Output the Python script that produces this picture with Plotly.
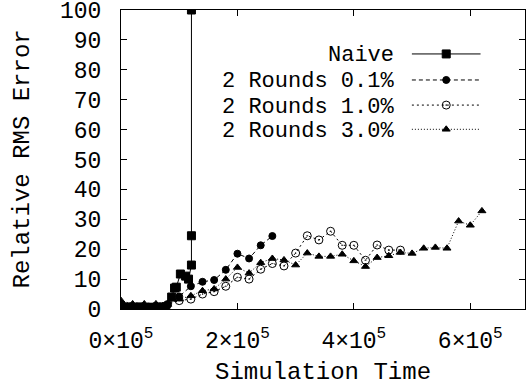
import plotly.graph_objects as go

FONT = "Liberation Mono"

# Naive
naive_x = [2000, 7000, 12000, 17000, 22000, 27000, 32000, 37000, 42000, 47000,
           52000, 57000, 62000, 67000, 72000, 77000,
           87000, 92000, 95000, 102000, 111000, 116000, 121000, 121000, 121000]
naive_y = [0.6, 0.5, 0.7, 0.5, 0.6, 0.5, 0.7, 0.5, 0.6, 0.5,
           0.6, 0.5, 0.7, 0.5, 0.6, 0.8,
           4.0, 7.0, 7.3, 11.7, 11.0, 10.0, 14.7, 24.5, 100.0]

# 2 Rounds 0.1%
r01_x = [0, 20000, 40000, 60000, 80000, 100000, 120000, 140000, 160000, 180000,
         200000, 220000, 240000, 260000]
r01_y = [1.5, 0.5, 0.5, 0.5, 1.5, 4.2, 7.6, 9.1, 9.7, 13.1, 18.5, 16.9, 21.3, 24.4]

# 2 Rounds 1.0%
r10_x = [0, 20000, 40000, 60000, 80000, 100000, 120000, 140000, 160000, 180000,
         200000, 220000, 240000, 260000, 280000, 300000, 320000, 340000, 360000,
         380000, 400000, 420000, 440000, 460000, 480000]
r10_y = [1.0, 0.5, 0.5, 0.5, 1.5, 2.8, 3.3, 5.0, 5.8, 7.6, 10.6, 10.0, 13.3, 15.2,
         14.4, 18.7, 24.5, 23.1, 26.0, 21.3, 21.3, 16.3, 21.4, 19.7, 19.7]

# 2 Rounds 3.0%
r30_x = [0, 20000, 40000, 60000, 80000, 100000, 120000, 140000, 160000, 180000,
         200000, 220000, 240000, 260000, 280000, 300000, 320000, 340000, 360000,
         380000, 400000, 420000, 440000, 460000, 480000, 500000, 520000, 540000,
         560000, 580000, 600000, 620000]
r30_y = [2.8, 1.7, 1.7, 1.7, 1.5, 3.3, 4.4, 6.1, 6.7, 10.0, 13.9, 12.0, 15.5, 16.9,
         16.4, 14.7, 18.7, 17.6, 17.6, 18.3, 16.1, 14.2, 17.2, 17.8, 18.9, 18.6,
         20.3, 20.6, 20.3, 29.4, 28.0, 32.8]

series_names = ["Naive", "2 Rounds 0.1%", "2 Rounds 1.0%", "2 Rounds 3.0%"]
x_tick_vals = [0, 200000, 400000, 600000]
x_tick_text = ["0×10<sup>5</sup>", "2×10<sup>5</sup>", "4×10<sup>5</sup>", "6×10<sup>5</sup>"]
y_tick_vals = [0, 10, 20, 30, 40, 50, 60, 70, 80, 90, 100]
x_title = "Simulation Time"
y_title = "Relative RMS Error"

styles = [
    dict(dash="solid", symbol="square", size=8),
    dict(dash="4px,3px", symbol="circle", size=7),
    dict(dash="2px,3px", symbol="circle-open-dot", size=8),
    dict(dash="1px,2px", symbol="triangle-up", size=7),
]
data = [(naive_x, naive_y), (r01_x, r01_y), (r10_x, r10_y), (r30_x, r30_y)]

fig = go.Figure()
for (xs, ys), st, name in zip(data, styles, series_names):
    fig.add_trace(go.Scatter(
        x=xs, y=ys, mode="lines+markers", name=name, showlegend=False,
        line=dict(color="black", width=1, dash=st["dash"]),
        marker=dict(symbol=st["symbol"], size=st["size"], color="black",
                    line=dict(color="black", width=1)),
        xaxis="x", yaxis="y"))

# manual legend (text right aligned, sample on the right)
leg_rows = [0.853, 0.766, 0.682, 0.601]
for (st, name, yy) in zip(styles, series_names, leg_rows):
    fig.add_trace(go.Scatter(
        x=[0.72, 0.89], y=[yy, yy], mode="lines",
        line=dict(color="black", width=1, dash=st["dash"]),
        showlegend=False, hoverinfo="skip", xaxis="x2", yaxis="y2"))
    fig.add_trace(go.Scatter(
        x=[0.805], y=[yy], mode="markers",
        marker=dict(symbol=st["symbol"], size=st["size"], color="black",
                    line=dict(color="black", width=1)),
        showlegend=False, hoverinfo="skip", xaxis="x2", yaxis="y2"))
    fig.add_annotation(x=0.68, y=yy, xref="paper", yref="paper", text=name,
                       showarrow=False, xanchor="right", yanchor="middle", yshift=-2,
                       font=dict(family=FONT, size=22, color="black"))

fig.add_annotation(x=0.5, y=-0.214, xref="paper", yref="paper", text=x_title,
                   showarrow=False, xanchor="center", yanchor="middle",
                   font=dict(family=FONT, size=24, color="black"))
fig.add_annotation(x=-0.245, y=0.5, xref="paper", yref="paper", text=y_title,
                   showarrow=False, xanchor="center", yanchor="middle", textangle=-90,
                   font=dict(family=FONT, size=24, color="black"))

fig.update_layout(
    width=526, height=385,
    margin=dict(l=121, r=1, t=10, b=76),
    paper_bgcolor="white", plot_bgcolor="white",
    font=dict(family=FONT, size=24, color="black"),
    xaxis=dict(range=[0, 694000], tickvals=x_tick_vals, ticktext=x_tick_text,
               ticks="inside", ticklen=6, tickcolor="black", showline=True,
               linecolor="black", linewidth=1, mirror="ticks", showgrid=False,
               zeroline=False, automargin=False, ticklabelstandoff=10,
               ticklabeloverflow="allow", tickfont=dict(family=FONT, size=23)),
    yaxis=dict(range=[0, 100], tickvals=y_tick_vals, ticks="inside", ticklen=6,
               tickcolor="black", showline=True, linecolor="black", linewidth=1,
               mirror="ticks", showgrid=False, zeroline=False, automargin=False,
               ticklabelstandoff=14, ticklabeloverflow="allow",
               tickfont=dict(family=FONT, size=23)),
    xaxis2=dict(range=[0, 1], overlaying="x", visible=False, fixedrange=True),
    yaxis2=dict(range=[0, 1], overlaying="y", visible=False, fixedrange=True),
    showlegend=False,
)

fig.write_html("out.html", config={"displayModeBar": False},
               post_script="document.body.style.margin='0';document.body.style.overflow='hidden';")
